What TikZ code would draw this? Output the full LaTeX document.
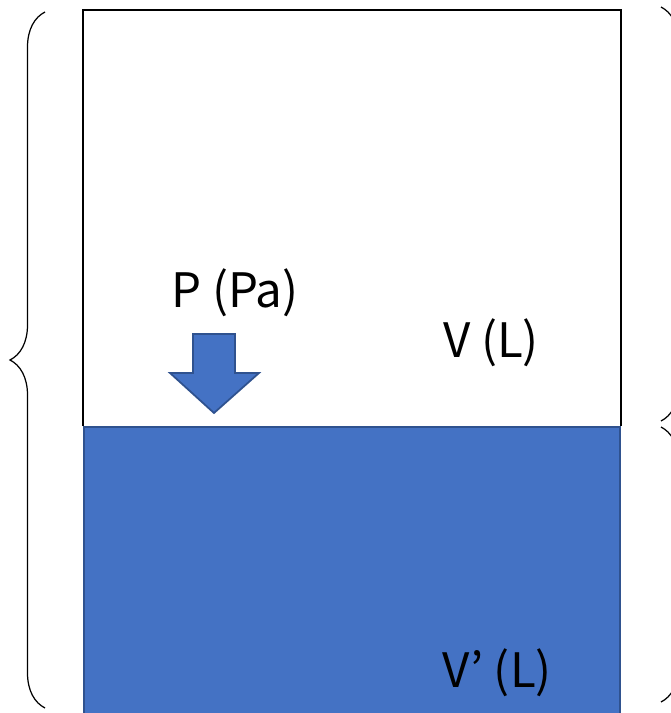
\documentclass[tikz,border=0pt]{standalone}
\usepackage{fontspec}
\newfontfamily\jpfont{Noto Sans CJK JP}
\usetikzlibrary{decorations.pathreplacing}
\definecolor{water}{HTML}{4472C4}
\definecolor{waterEdge}{HTML}{2F528F}

\begin{document}
\begin{tikzpicture}[x=0.02cm, y=-0.02cm,
    wall/.style={draw=black, line width=1.4pt},
    label/.style={font=\jpfont\fontsize{27}{32}\selectfont, inner sep=0pt},
    bracket/.style={decorate, decoration={brace, amplitude=0.7cm}, line width=0.7pt}
]
\useasboundingbox (0,0) rectangle (671,713);
\clip (0,0) rectangle (671,713);

% --- Corners of the vessel ---
\coordinate (tl) at (83,10);
\coordinate (tr) at (621,10);
\coordinate (ml) at (83,426);
\coordinate (mr) at (621,426);

% --- Liquid ---
\fill[water] (ml) rectangle (621,720);
\draw[waterEdge, line width=1.2pt] (84,720) -- (84,427) -- (620,427) -- (620,720);

% --- Vessel walls ---
\draw[wall] (ml) -- (tl) -- (tr) -- (mr);

% --- Pressure arrow ---
\filldraw[fill=water, draw=waterEdge, line width=1pt]
    (193,334) -- (235,334) -- (235,373) -- (259,373) -- (214,413)
    -- (170,373) -- (193,373) -- cycle;

% --- Labels ---
\node[label] (pres) at (235,293) {P (Pa)};
\node[label] (vol) at (491,343) {V (L)};
\node[label] (volp) at (497,673) {V’ (L)};

% --- Braces ---
\coordinate (lb) at (45,708);
\coordinate (lt) at (45,12);
\coordinate (rt) at (661,7);
\coordinate (rm) at (661,421);
\coordinate (rm2) at (661,427);
\coordinate (rb) at (661,702);
\draw[bracket] (lb) -- (lt);
\draw[bracket] (rt) -- (rm);
\draw[bracket] (rm2) -- (rb);

\end{tikzpicture}
\end{document}
